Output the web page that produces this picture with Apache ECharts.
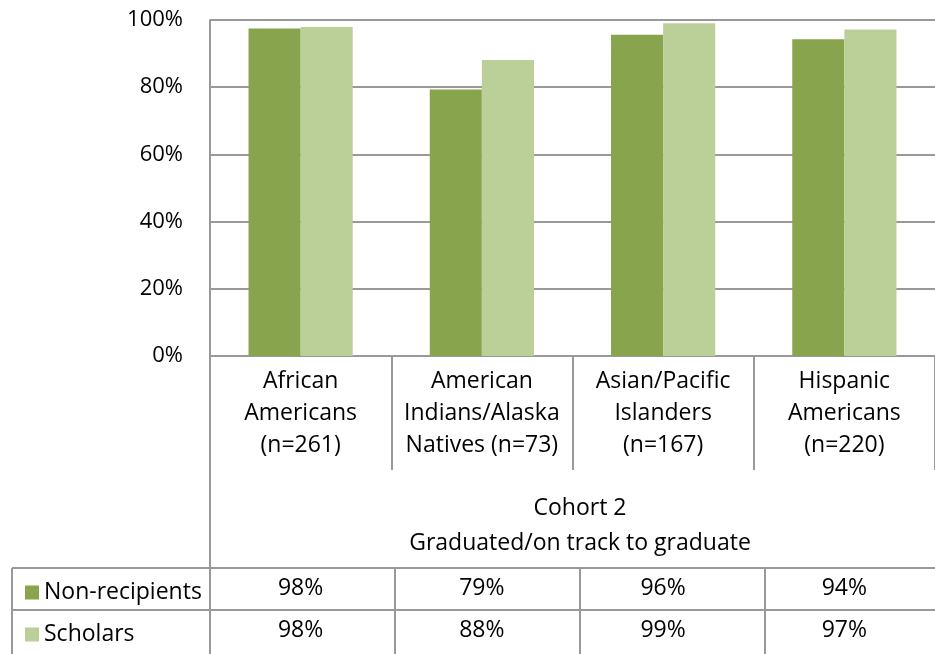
<!DOCTYPE html>
<html>
<head>
<meta charset="utf-8">
<script src="https://cdn.jsdelivr.net/npm/echarts@6/dist/echarts.min.js"></script>
<style>
  html, body { margin: 0; padding: 0; background: #fff; }
  #chart { width: 935px; height: 654px; }
</style>
</head>
<body>
<div id="chart"></div>
<script>
// 数据
const categories = [
  'African\nAmericans\n(n=261)',
  'American\nIndians/Alaska\nNatives (n=73)',
  'Asian/Pacific\nIslanders\n(n=167)',
  'Hispanic\nAmericans\n(n=220)'
];
const nonRecipients = [97.5, 79.3, 95.6, 94.3];
const scholars = [97.9, 88.1, 99.0, 97.2];
const nonRecipientLabels = ['98%', '79%', '96%', '94%'];
const scholarLabels = ['98%', '88%', '99%', '97%'];
const yTicks = [0, 20, 40, 60, 80, 100];

const FONT = 'Open Sans';
const FS = 23;
const LINE = '#999999';
// 图表区域
const gridLeft = 210, gridTop = 20, gridBottom = 298, gridRight = -15;
const axisY = 654 - gridBottom;           // 0% 线
const plotW = 935 - gridLeft - gridRight;
const catW = plotW / categories.length;

// 表格线
const lines = [];
function hline(x1, x2, y) {
  lines.push({ type: 'line', shape: { x1: x1, y1: y, x2: x2, y2: y }, style: { stroke: LINE, lineWidth: 2 } });
}
function vline(x, y1, y2) {
  lines.push({ type: 'line', shape: { x1: x, y1: y1, x2: x, y2: y2 }, style: { stroke: LINE, lineWidth: 2 } });
}
hline(12, 935, 568);
hline(12, 935, 610);
vline(12, 568, 654);
vline(gridLeft, axisY, 654);
for (let i = 1; i < categories.length; i++) {
  vline(gridLeft + catW * i, 568, 654);
}

const chart = echarts.init(document.getElementById('chart'));
chart.setOption({
  animation: false,
  textStyle: { fontFamily: FONT },
  color: ['#88a44d', '#bbcf98'],
  grid: { left: gridLeft, top: gridTop, bottom: gridBottom, right: gridRight, containLabel: false },
  legend: {
    orient: 'vertical',
    left: 20,
    top: 576,
    icon: 'rect',
    itemWidth: 14,
    itemHeight: 14,
    itemGap: 42 - FS,
    textStyle: { fontSize: FS, color: '#000', fontFamily: FONT },
    data: ['Non-recipients', 'Scholars']
  },
  xAxis: [
    {
      type: 'category',
      data: categories,
      axisLine: { lineStyle: { color: LINE, width: 2 } },
      axisTick: { show: true, length: 114, interval: 0, lineStyle: { color: LINE, width: 2 } },
      axisLabel: { interval: 0, fontSize: FS, lineHeight: 32, margin: 9, color: '#000', fontFamily: FONT }
    },
    {
      type: 'category',
      data: categories,
      position: 'bottom',
      offset: 588 - axisY,
      axisLine: { show: false },
      axisTick: { show: false },
      axisLabel: {
        interval: 0, fontSize: FS, margin: 0, verticalAlign: 'middle', color: '#000', fontFamily: FONT,
        formatter: (v, i) => nonRecipientLabels[i]
      }
    },
    {
      type: 'category',
      data: categories,
      position: 'bottom',
      offset: 630 - axisY,
      axisLine: { show: false },
      axisTick: { show: false },
      axisLabel: {
        interval: 0, fontSize: FS, margin: 0, verticalAlign: 'middle', color: '#000', fontFamily: FONT,
        formatter: (v, i) => scholarLabels[i]
      }
    }
  ],
  yAxis: {
    type: 'value',
    min: yTicks[0],
    max: yTicks[yTicks.length - 1],
    interval: 20,
    axisLine: { show: true, lineStyle: { color: LINE, width: 2 } },
    axisTick: { show: false },
    splitLine: { lineStyle: { color: LINE, width: 2 } },
    axisLabel: { fontSize: 22, margin: 27, color: '#000', fontFamily: FONT, formatter: '{value}%' }
  },
  series: [
    {
      name: 'Non-recipients',
      type: 'bar',
      data: nonRecipients,
      barGap: '0%',
      barCategoryGap: '42.5%'
    },
    {
      name: 'Scholars',
      type: 'bar',
      data: scholars,
      barGap: '0%',
      barCategoryGap: '42.5%'
    }
  ],
  graphic: lines.concat([
    {
      type: 'text', x: gridLeft + plotW / 2, y: 508,
      style: { text: 'Cohort 2', fontSize: FS, fontFamily: FONT, fill: '#000', align: 'center', verticalAlign: 'middle' }
    },
    {
      type: 'text', x: gridLeft + plotW / 2, y: 543,
      style: { text: 'Graduated/on track to graduate', fontSize: FS, fontFamily: FONT, fill: '#000', align: 'center', verticalAlign: 'middle' }
    }
  ])
});
</script>
</body>
</html>
